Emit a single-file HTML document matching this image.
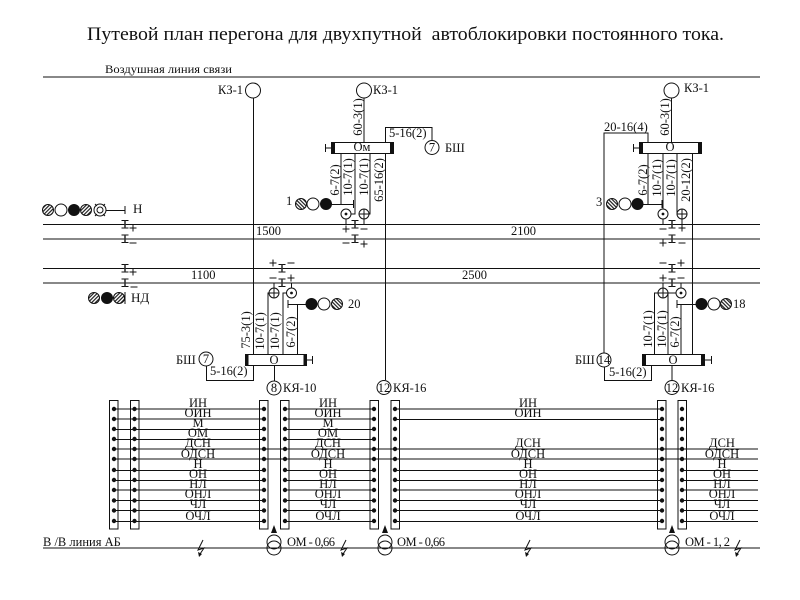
<!DOCTYPE html>
<html lang="ru">
<head>
<meta charset="utf-8">
<title>Путевой план перегона</title>
<style>
html,body{margin:0;padding:0;background:#fff;}
svg{display:block;}
text{font-family:"Liberation Serif","Noto Serif CJK SC",serif;font-size:12.5px;fill:#111;}
.l{fill:none;stroke:#111;stroke-width:1;}
.c{fill:#fff;stroke:#111;stroke-width:1;}
.m{text-anchor:middle;}
</style>
</head>
<body>
<svg width="800" height="600" viewBox="0 0 800 600" xmlns="http://www.w3.org/2000/svg">
<defs>
<pattern id="h1" width="2.6" height="2.6" patternUnits="userSpaceOnUse" patternTransform="rotate(45)"><rect width="2.6" height="2.6" fill="#fff"/><rect width="1.2" height="2.6" fill="#222"/></pattern>
<pattern id="h2" width="2.6" height="2.6" patternUnits="userSpaceOnUse" patternTransform="rotate(-45)"><rect width="2.6" height="2.6" fill="#fff"/><rect width="1.2" height="2.6" fill="#222"/></pattern>
<g id="ins"><path class="l" d="M-3.5 -4H3.5M-3.5 3.5H3.5"/><path d="M-0.8 -4H0.8V3.5H-0.8Z" fill="#333"/></g>
<g id="pl"><path class="l" d="M-3.5 0H3.5M0 -3.5V3.5"/></g>
<g id="mi"><path class="l" d="M-3.5 0H3.5"/></g>
<g id="cross"><circle class="c" r="5"/><path class="l" d="M-5 0H5M0 -5V5"/></g>
<g id="dot"><circle class="c" r="5"/><circle r="1.4" fill="#111"/></g>
<g id="strip"><circle cy="409" r="2.2"/><circle cy="419" r="2.2"/><circle cy="429" r="2.2"/><circle cy="439" r="2.2"/><circle cy="449" r="2.2"/><circle cy="459" r="2.2"/><circle cy="470" r="2.2"/><circle cy="480" r="2.2"/><circle cy="490" r="2.2"/><circle cy="500.5" r="2.2"/><circle cy="510.5" r="2.2"/><circle cy="521" r="2.2"/></g>
<g id="bolt"><path class="l" d="M3 -8L-2 2L4 0L0 6"/><path d="M-2 4L2 6L-1 9Z" fill="#111"/></g>
<g id="tr"><path class="l" d="M0 -9V-6"/><path d="M-3 -6H3L0 -14Z" fill="#111"/><circle cx="0" cy="3" r="7" fill="none" stroke="#111"/><circle cx="0" cy="9" r="7" fill="none" stroke="#111"/></g>
</defs>

<text x="87" y="40" textLength="637" lengthAdjust="spacingAndGlyphs" style="font-size:19px" xml:space="preserve">Путевой план перегона для двухпутной  автоблокировки постоянного тока.</text>
<text x="105" y="73" textLength="127" lengthAdjust="spacingAndGlyphs" style="font-size:12px">Воздушная линия связи</text>

<!-- main horizontal lines -->
<path class="l" d="M43 77H760M43 224.5H760M43 239H760M43 268.5H760M43 283H760M43 548H760"/>

<!-- left signals -->
<circle cx="48" cy="210" r="5.5" fill="url(#h1)" stroke="#111"/>
<circle cx="61" cy="210" r="6" class="c"/>
<circle cx="74" cy="210" r="6" fill="#111"/>
<circle cx="86" cy="210" r="5.5" fill="url(#h1)" stroke="#111"/>
<circle cx="100" cy="210" r="6" class="c"/><circle cx="100" cy="210" r="3" class="c"/>
<path class="l" d="M95 204L97 206M105 204L103 206M95 216L97 214M105 216L103 214M106 210.5H125M125 206V214"/>
<text x="133" y="213" style="font-size:13px">Н</text>
<use href="#ins" x="125" y="224.5"/><use href="#pl" x="133" y="228"/>
<use href="#ins" x="125" y="239"/><use href="#mi" x="133" y="243"/>
<use href="#ins" x="125" y="268.5"/><use href="#pl" x="133" y="272"/>
<use href="#ins" x="125" y="283"/><use href="#mi" x="134" y="287"/>
<circle cx="94" cy="298" r="5.5" fill="url(#h1)" stroke="#111"/>
<circle cx="107" cy="298" r="6" fill="#111"/>
<circle cx="119" cy="298" r="5.5" fill="url(#h1)" stroke="#111"/>
<path class="l" d="M125 292V304"/>
<text x="131" y="302" style="font-size:13px">НД</text>

<text x="256" y="235">1500</text>
<text x="511" y="235">2100</text>
<text x="191" y="279">1100</text>
<text x="462" y="279">2500</text>

<!-- left КЗ + lower Box -->
<path class="l" d="M253.5 98V380.5H206.5V366M268 354V293H269M283 354V293H287M297.5 354V304.5M288 304.5H306M288 300V308M274 288V283M291.5 288V283M274.5 365V381M307 360H312M312.5 356V364"/>
<circle cx="253" cy="90.5" r="7.5" class="c"/>
<text x="218" y="94">КЗ-1</text>
<rect x="245.5" y="354.5" width="61" height="11" class="c"/>
<rect x="245" y="354" width="3.5" height="12" fill="#111"/><rect x="303.5" y="354" width="3.5" height="12" fill="#111"/>
<text x="274" y="364" class="m">О</text>
<circle cx="206" cy="359" r="7" class="c"/><text x="206" y="363" class="m">7</text>
<text x="176" y="364">БШ</text>
<text x="210" y="375">5-16(2)</text>
<circle cx="274" cy="388" r="7" class="c"/><text x="274" y="392" class="m">8</text>
<text x="283" y="392">КЯ-10</text>
<use href="#cross" x="274" y="293"/><use href="#dot" x="291.5" y="293"/>
<circle cx="311.5" cy="304" r="6" fill="#111"/><circle cx="324" cy="304" r="6" class="c"/><circle cx="337" cy="304" r="5.5" fill="url(#h2)" stroke="#111"/>
<text x="348" y="308">20</text>
<use href="#pl" x="273" y="263"/><use href="#ins" x="282" y="268.5"/><use href="#mi" x="291" y="263"/>
<use href="#mi" x="273" y="278"/><use href="#ins" x="282" y="283"/><use href="#pl" x="291" y="278"/>
<text transform="translate(250,330) rotate(-90)" class="m">75-3(1)</text>
<text transform="translate(264,331) rotate(-90)" class="m">10-7(1)</text>
<text transform="translate(279,331) rotate(-90)" class="m">10-7(1)</text>
<text transform="translate(295,332) rotate(-90)" class="m">6-7(2)</text>

<!-- middle Ом -->
<path class="l" d="M364 98V142M385.5 142V127.5H432V141M385.5 153V380M341 153V204.5M327 204.5H353M353.5 200V208M355 153V214H351M370 153V214H369M346 219V224M364 219V224M331 148H326M325.5 144V152"/>
<circle cx="364" cy="90.5" r="7.5" class="c"/>
<text x="373" y="94">КЗ-1</text>
<rect x="331.5" y="142.5" width="62" height="11" class="c"/>
<rect x="331" y="142" width="4" height="12" fill="#111"/><rect x="390" y="142" width="4" height="12" fill="#111"/>
<text x="362" y="151" class="m">Ом</text>
<text x="389" y="137">5-16(2)</text>
<circle cx="432" cy="147.5" r="7" class="c"/><text x="432" y="151.5" class="m">7</text>
<text x="445" y="152">БШ</text>
<text x="286" y="205">1</text>
<circle cx="301" cy="204" r="5.5" fill="url(#h2)" stroke="#111"/><circle cx="313" cy="204" r="6" class="c"/><circle cx="326" cy="204" r="6" fill="#111"/>
<use href="#dot" x="346" y="214"/><use href="#cross" x="364" y="214"/>
<use href="#pl" x="346" y="229"/><use href="#ins" x="355" y="224.5"/><use href="#mi" x="364" y="229"/>
<use href="#mi" x="346" y="243"/><use href="#ins" x="355" y="239"/><use href="#pl" x="364" y="244"/>
<text transform="translate(362,117) rotate(-90)" class="m">60-3(1)</text>
<text transform="translate(339,180) rotate(-90)" class="m">6-7(2)</text>
<text transform="translate(352,177) rotate(-90)" class="m">10-7(1)</text>
<text transform="translate(368,177) rotate(-90)" class="m">10-7(1)</text>
<text transform="translate(383,180) rotate(-90)" class="m">65-16(2)</text>
<circle cx="384" cy="387.5" r="7" class="c"/><text x="384" y="392" class="m">12</text>
<text x="393" y="392">КЯ-16</text>

<!-- right top -->
<path class="l" d="M671.5 98V142M604 353V133H648V142M648 153V204.5M639 204.5H662M662 200V208M663 153V209M677 153V214H678M692.5 153V354M663 219V224M682 219V224M639 148H634M633.5 144V152"/>
<circle cx="671.5" cy="90.5" r="7.5" class="c"/>
<text x="684" y="92">КЗ-1</text>
<text x="604" y="131">20-16(4)</text>
<rect x="639.5" y="142.5" width="62" height="11" class="c"/>
<rect x="639" y="142" width="4" height="12" fill="#111"/><rect x="698" y="142" width="4" height="12" fill="#111"/>
<text x="670" y="151" class="m">О</text>
<text x="596" y="206">3</text>
<circle cx="612" cy="204" r="5.5" fill="url(#h2)" stroke="#111"/><circle cx="625" cy="204" r="6" class="c"/><circle cx="637.5" cy="204" r="6" fill="#111"/>
<use href="#dot" x="663" y="214"/><use href="#cross" x="682" y="214"/>
<use href="#mi" x="663" y="229"/><use href="#ins" x="672" y="224.5"/><use href="#pl" x="682" y="228"/>
<use href="#pl" x="663" y="243"/><use href="#ins" x="672" y="239"/><use href="#mi" x="682" y="243"/>
<text transform="translate(669,117) rotate(-90)" class="m">60-3(1)</text>
<text transform="translate(647,180) rotate(-90)" class="m">6-7(2)</text>
<text transform="translate(661,178) rotate(-90)" class="m">10-7(1)</text>
<text transform="translate(675,178) rotate(-90)" class="m">10-7(1)</text>
<text transform="translate(690,180) rotate(-90)" class="m">20-12(2)</text>

<!-- right lower -->
<path class="l" d="M654.5 354V293H659M668 354V293H676M681 354V304.5H677M677 300V308M681 304.5H697M663 288V283M681 288V283M604.5 366V380.5H651.5V365M672 365V380M705 360H711M711.5 356V364"/>
<rect x="642.5" y="354.5" width="62" height="11" class="c"/>
<rect x="642" y="354" width="4" height="12" fill="#111"/><rect x="701" y="354" width="4" height="12" fill="#111"/>
<text x="673" y="364" class="m">О</text>
<use href="#cross" x="663" y="293"/><use href="#dot" x="681" y="293"/>
<circle cx="701.5" cy="304" r="6" fill="#111"/><circle cx="714" cy="304" r="6" class="c"/><circle cx="726" cy="304" r="5.5" fill="url(#h2)" stroke="#111"/>
<text x="733" y="308">18</text>
<use href="#mi" x="663" y="263"/><use href="#ins" x="672" y="268.5"/><use href="#pl" x="681" y="263"/>
<use href="#pl" x="663" y="278"/><use href="#ins" x="672" y="283"/><use href="#mi" x="681" y="278"/>
<circle cx="604" cy="360" r="7" class="c"/><text x="604" y="364" class="m">14</text>
<text x="575" y="364">БШ</text>
<text x="609" y="376">5-16(2)</text>
<circle cx="672" cy="387.5" r="7" class="c"/><text x="672" y="392" class="m">12</text>
<text x="681" y="392">КЯ-16</text>
<text transform="translate(652,329) rotate(-90)" class="m">10-7(1)</text>
<text transform="translate(666,329) rotate(-90)" class="m">10-7(1)</text>
<text transform="translate(679,332) rotate(-90)" class="m">6-7(2)</text>

<!-- terminal strips -->
<rect x="109.5" y="400.5" width="8.5" height="128.5" class="c"/>
<rect x="130.5" y="400.5" width="8.5" height="128.5" class="c"/>
<rect x="259.5" y="400.5" width="8.5" height="128.5" class="c"/>
<rect x="280.5" y="400.5" width="8.5" height="128.5" class="c"/>
<rect x="370" y="400.5" width="8.5" height="128.5" class="c"/>
<rect x="391" y="400.5" width="8.5" height="128.5" class="c"/>
<rect x="657.5" y="400.5" width="8.5" height="128.5" class="c"/>
<rect x="678" y="400.5" width="8.5" height="128.5" class="c"/>

<!-- buses -->
<path class="l" d="M114 409H264M285 409H374M395 409H662
M114 419H264M285 419H374M395 419.5H662
M114 429.5H264M285 429.5H374
M114 439.5H264M285 439.5H374
M114 449H758
M114 459H758
M114 470.5H264M285 470.5H374M395 470.5H662M682 470.5H758
M114 480.5H264M285 480.5H374M395 480.5H662M682 480.5H758
M114 490H264M285 490H374M395 490H662M682 490H758
M114 500.5H264M285 500.5H374M395 500.5H662M682 500.5H758
M114 510.5H264M285 510.5H374M395 510.5H662M682 510.5H758
M114 521.5H264M285 521.5H374M395 521.5H662M682 521.5H758"/>
<g fill="#111">
<use href="#strip" x="114"/><use href="#strip" x="134.5"/>
<use href="#strip" x="264"/><use href="#strip" x="285"/>
<use href="#strip" x="374"/><use href="#strip" x="395"/>
<use href="#strip" x="662"/><use href="#strip" x="682"/>
</g>

<!-- bus labels -->
<text x="198" y="407" class="m">ИН</text><text x="198" y="417" class="m">ОИН</text><text x="198" y="427" class="m">М</text><text x="198" y="437" class="m">ОМ</text><text x="198" y="447" class="m">ДСН</text><text x="198" y="458" class="m">ОДСН</text><text x="198" y="468" class="m">Н</text><text x="198" y="478" class="m">ОН</text><text x="198" y="488" class="m">НЛ</text><text x="198" y="498" class="m">ОНЛ</text><text x="198" y="508" class="m">ЧЛ</text><text x="198" y="520" class="m">ОЧЛ</text>
<text x="328" y="407" class="m">ИН</text><text x="328" y="417" class="m">ОИН</text><text x="328" y="427" class="m">М</text><text x="328" y="437" class="m">ОМ</text><text x="328" y="447" class="m">ДСН</text><text x="328" y="458" class="m">ОДСН</text><text x="328" y="468" class="m">Н</text><text x="328" y="478" class="m">ОН</text><text x="328" y="488" class="m">НЛ</text><text x="328" y="498" class="m">ОНЛ</text><text x="328" y="508" class="m">ЧЛ</text><text x="328" y="520" class="m">ОЧЛ</text>
<text x="528" y="407" class="m">ИН</text><text x="528" y="417" class="m">ОИН</text><text x="528" y="447" class="m">ДСН</text><text x="528" y="458" class="m">ОДСН</text><text x="528" y="468" class="m">Н</text><text x="528" y="478" class="m">ОН</text><text x="528" y="488" class="m">НЛ</text><text x="528" y="498" class="m">ОНЛ</text><text x="528" y="508" class="m">ЧЛ</text><text x="528" y="520" class="m">ОЧЛ</text>
<text x="722" y="447" class="m">ДСН</text><text x="722" y="458" class="m">ОДСН</text><text x="722" y="468" class="m">Н</text><text x="722" y="478" class="m">ОН</text><text x="722" y="488" class="m">НЛ</text><text x="722" y="498" class="m">ОНЛ</text><text x="722" y="508" class="m">ЧЛ</text><text x="722" y="520" class="m">ОЧЛ</text>

<!-- bottom -->
<text x="43" y="546">В /В линия АБ</text>
<use href="#tr" x="274" y="539"/><use href="#tr" x="385" y="539"/><use href="#tr" x="672" y="539"/>
<text x="287" y="546" textLength="48" lengthAdjust="spacing">ОМ - 0,66</text>
<text x="397" y="546" textLength="48" lengthAdjust="spacing">ОМ - 0,66</text>
<text x="685" y="546" textLength="45" lengthAdjust="spacing">ОМ - 1, 2</text>
<use href="#bolt" x="200" y="548"/><use href="#bolt" x="343" y="548"/><use href="#bolt" x="527" y="548"/><use href="#bolt" x="737" y="548"/>
</svg>
</body>
</html>
